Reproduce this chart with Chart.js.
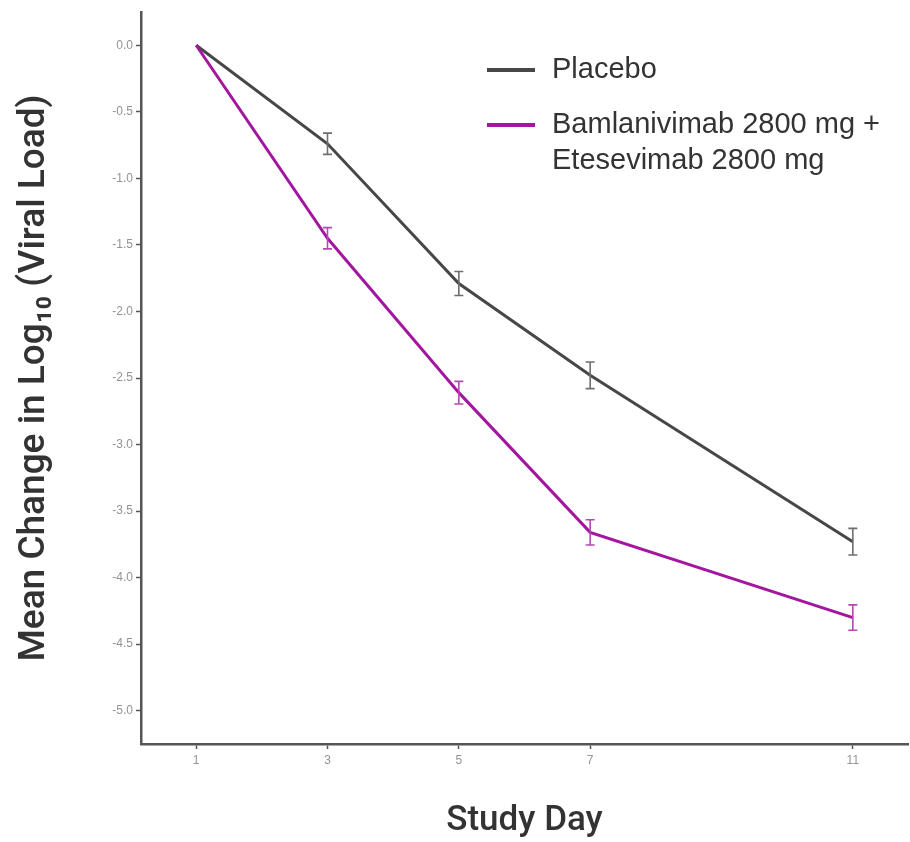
<!DOCTYPE html>
<html>
<head>
<meta charset="utf-8">
<script src="https://cdn.jsdelivr.net/npm/chart.js@4.4.1/dist/chart.umd.min.js"></script>
<style>
  html, body { margin: 0; padding: 0; background: #fff; }
  #wrap { width: 910px; height: 842px; }
</style>
</head>
<body>
<div id="wrap"><canvas id="grafico"></canvas></div>
<script>
// Datos
const dias = [1, 3, 5, 7, 11]
const placebo = [0, -0.74, -1.79, -2.48, -3.73]
const placeboErr = [0, 0.08, 0.09, 0.10, 0.10]
const bamla = [0, -1.45, -2.61, -3.66, -4.30]
const bamlaErr = [0, 0.08, 0.085, 0.095, 0.095]
const yTicks = [0, -0.5, -1, -1.5, -2, -2.5, -3, -3.5, -4, -4.5, -5]
const etiquetas = ['Placebo', ['Bamlanivimab 2800 mg +', 'Etesevimab 2800 mg']]

const gris = '#474747'
const magenta = '#a3169f'

// Barras de error
const barrasError = {
    id: 'barrasError',
    afterDatasetsDraw(chart) {
        const ctx = chart.ctx
        const x = chart.scales.x
        const y = chart.scales.y
        chart.data.datasets.forEach(ds => {
            ctx.save()
            ctx.strokeStyle = ds.errColor
            ctx.lineWidth = 1.6
            ds.data.forEach((p, i) => {
                const e = ds.errores[i]
                if (!e) return
                const px = x.getPixelForValue(p.x)
                const top = y.getPixelForValue(p.y + e)
                const bot = y.getPixelForValue(p.y - e)
                ctx.beginPath()
                ctx.moveTo(px, top); ctx.lineTo(px, bot)
                ctx.moveTo(px - 4.5, top); ctx.lineTo(px + 4.5, top)
                ctx.moveTo(px - 4.5, bot); ctx.lineTo(px + 4.5, bot)
                ctx.stroke()
            })
            ctx.restore()
        })
    }
}

// Leyenda dibujada a mano (texto en dos lineas)
const leyenda = {
    id: 'leyenda',
    afterDraw(chart) {
        const ctx = chart.ctx
        ctx.save()
        ctx.font = '29px "Liberation Sans", Arial, sans-serif'
        ctx.textBaseline = 'middle'
        ctx.fillStyle = '#333'
        let yy = 70
        chart.data.datasets.forEach(ds => {
            ctx.strokeStyle = ds.borderColor
            ctx.lineWidth = 4
            ctx.beginPath()
            ctx.moveTo(487, yy); ctx.lineTo(535, yy)
            ctx.stroke()
            const lineas = Array.isArray(ds.label) ? ds.label : [ds.label]
            lineas.forEach((t, k) => ctx.fillText(t, 552, yy + k * 36))
            yy += 55
        })
        ctx.restore()
    }
}

const config = {
    type: 'line',
    data: {
        datasets: [
            {
                label: etiquetas[0],
                data: dias.map((d, i) => ({ x: d, y: placebo[i] })),
                errores: placeboErr,
                errColor: '#6e6e6e',
                borderColor: gris,
                borderWidth: 3,
                pointRadius: 0,
                order: 2
            },
            {
                label: etiquetas[1],
                data: dias.map((d, i) => ({ x: d, y: bamla[i] })),
                errores: bamlaErr,
                errColor: '#b548b1',
                borderColor: magenta,
                borderWidth: 3,
                pointRadius: 0,
                order: 1
            }
        ]
    },
    options: {
        responsive: true,
        maintainAspectRatio: false,
        animation: false,
        layout: { padding: { left: 0, right: 2, top: 12, bottom: 0 } },
        plugins: { legend: { display: false }, tooltip: { enabled: false } },
        scales: {
            x: {
                type: 'linear',
                min: 0.16,
                max: 11.84,
                afterBuildTicks: s => { s.ticks = dias.map(v => ({ value: v })) },
                afterFit: s => { s.height = 98 },
                grid: { drawOnChartArea: false, drawTicks: true, tickLength: 5, tickColor: '#555', tickWidth: 1.5 },
                border: { color: '#555', width: 2.5 },
                ticks: { color: '#939393', font: { size: 12, family: 'Liberation Sans' }, padding: 4, callback: v => v },
                title: {
                    display: true,
                    text: 'Study Day',
                    color: '#333',
                    font: { size: 35, family: 'Roboto', weight: '500' },
                    padding: { top: 0, bottom: 0 }
                }
            },
            y: {
                min: -5.25,
                max: 0.25,
                afterBuildTicks: s => { s.ticks = yTicks.map(v => ({ value: v })) },
                afterFit: s => { s.width = 141 },
                grid: { drawOnChartArea: false, drawTicks: true, tickLength: 5, tickColor: '#555', tickWidth: 1.5 },
                border: { color: '#555', width: 2.5 },
                ticks: { color: '#939393', font: { size: 12, family: 'Liberation Sans' }, padding: 3, callback: v => v.toFixed(1) },
                title: {
                    display: true,
                    text: 'Mean Change in Log\u2081\u2080 (Viral Load)',
                    color: '#333',
                    font: { size: 37, family: 'Roboto', weight: '500' },
                    padding: { top: 13, bottom: 0 }
                }
            }
        }
    },
    plugins: [barrasError, leyenda]
}

new Chart(document.getElementById('grafico'), config)
</script>
</body>
</html>
